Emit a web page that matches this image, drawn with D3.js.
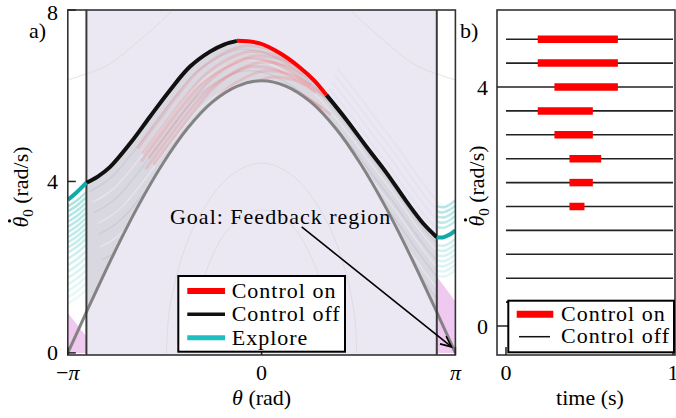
<!DOCTYPE html>
<html><head><meta charset="utf-8">
<script src="https://cdn.jsdelivr.net/npm/d3@7"></script>
<style>
body{margin:0;background:#fff;}
text{font-family:"Liberation Serif",serif;fill:#000;}
</style>
</head><body>
<svg id="c" width="676" height="418"></svg>
<script>
const PI = Math.PI;

// ---------- panel a data ----------
const thetaTickValues = [-PI, 0, PI];
const thetaTickLabels = ["−π", "0", "π"];
const velTickValuesA = [0, 4, 8];
const feedbackEdges = [-2.84, 2.84];
const separatrix = [[-PI,0],[-2.84,0.95],[-2.4,2.30],[-2.0,3.43],[-1.6,4.42],[-1.2,5.24],[-0.8,5.85],[-0.4,6.22],[0,6.35],[0.4,6.22],[0.8,5.85],[1.2,5.24],[1.6,4.42],[2.0,3.43],[2.4,2.30],[2.84,0.95],[PI,0]];
const controlOffRise = [[-2.84,3.97],[-2.65,4.12],[-2.455,4.34],[-2.13,4.89],[-1.81,5.51],[-1.485,6.13],[-1.16,6.68],[-0.836,7.03],[-0.60,7.20],[-0.40,7.28]];
const controlOnArc = [[-0.40,7.28],[-0.03,7.22],[0.30,6.99],[0.62,6.66],[0.85,6.36],[1.05,6.02]];
const controlOffFall = [[1.05,6.02],[1.38,5.43],[1.70,4.81],[2.03,4.19],[2.35,3.53],[2.62,3.02],[2.84,2.70]];
const exploreLeft = [[-PI,3.57],[-3.0,3.74],[-2.84,3.97]];
const exploreRight = [[2.84,2.70],[2.95,2.70],[3.05,2.76],[PI,2.86]];
const exploreStrandsLeft = [3.42,3.3,3.18,3.06,2.94,2.82,2.7,2.58,2.46,2.34,2.2,2.05,1.9,1.75,1.6,1.45,1.3,1.15];
const exploreStrandsRight = [3.42,3.3,3.18,3.06,2.94,2.52,2.4,2.28,2.16,2.04,1.92,1.8];
const grayStrandShifts = [[0.05,0.2],[0.1,0.45],[0.12,0.7],[0.18,0.95],[0.2,1.2],[0.22,1.5],[0.25,1.8],[0.28,2.1],[0.3,2.4],[0.3,2.7],[0.32,3.0]];
const overshootShifts = [0.15,0.3,0.45,0.6];
const redStrandShifts = [[0.12,0.12],[0.2,0.25],[0.3,0.35],[0.38,0.5],[0.25,0.6],[0.45,0.7],[0.18,0.42],[0.55,0.85],[0.35,0.95],[0.5,1.1]];
const pinkLeft = [[-PI,0],[-PI,0.93],[-2.84,0.38],[-2.84,0]];
const pinkRight = [[2.84,0],[2.84,1.78],[PI,1.2],[PI,0]];
const contourOuterLeft = [[-PI,6.37],[-2.5,6.71],[-2.0,7.27],[-1.5,7.91],[-1.45,8.0]];
const contourOuterRight = [[1.45,8.0],[1.5,7.91],[2.0,7.27],[2.5,6.71],[PI,6.37]];
const contourInner1 = [[-1.54,0],[-1.5,0.94],[-1.3,2.2],[-1.0,3.22],[-0.5,4.14],[0,4.43],[0.5,4.14],[1.0,3.22],[1.3,2.2],[1.5,0.94],[1.54,0]];
const contourInner2 = [[-1.11,0],[-1.0,1.38],[-0.8,2.25],[-0.5,2.95],[0,3.34],[0.5,2.95],[0.8,2.25],[1.0,1.38],[1.11,0]];
const goalText = "Goal: Feedback region";
const goalTextPos = [-1.485, 3.0];
const goalArrow = [[0.65,2.94],[3.08,0.14]];
const legendA = ["Control on", "Control off", "Explore"];

// ---------- panel b data ----------
const timeTickValues = [0, 1];
const velTickValuesB = [0, 4];
const initialVel = [4.8,4.4,4.0,3.6,3.2,2.8,2.4,2.0,1.6,1.2,0.8,0.4,0.0];
const controlStart = [0.19,0.19,0.29,0.19,0.29,0.38,0.38,0.38,null,null,null,null,null];
const controlEnd   = [0.67,0.67,0.67,0.52,0.52,0.57,0.52,0.47,null,null,null,null,null];
const legendB = ["Control on", "Control off"];

// ---------- setup ----------
const svg = d3.select("#c");
const FS = 22;
const LS = 1.0;
const defs = svg.append("defs");

// panel a scales
const fA = {l:67.8, r:455.4, t:10, b:355};
const xA = d3.scaleLinear().domain([-PI, PI]).range([fA.l, fA.r]);
const yA = d3.scaleLinear().domain([0, 8]).range([352.9, 10]);
const lineA = d3.line().x(d=>xA(d[0])).y(d=>yA(d[1])).curve(d3.curveCatmullRom.alpha(0.5));
const polyA = d3.line().x(d=>xA(d[0])).y(d=>yA(d[1]));

defs.append("clipPath").attr("id","clipA").append("rect")
  .attr("x",fA.l).attr("y",fA.t).attr("width",fA.r-fA.l).attr("height",fA.b-fA.t);

const gA = svg.append("g").attr("clip-path","url(#clipA)");

// feedback background
gA.append("rect").attr("x",xA(feedbackEdges[0])).attr("y",fA.t)
  .attr("width",xA(feedbackEdges[1])-xA(feedbackEdges[0])).attr("height",fA.b-fA.t)
  .attr("fill","#ebe8f3");

// pink regions
[pinkLeft, pinkRight].forEach(p=>{
  gA.append("path").attr("d",polyA(p)+"Z").attr("fill","#efc9ef");
});

// faint contours
[contourOuterLeft, contourOuterRight, contourInner1, contourInner2].forEach(c=>{
  gA.append("path").attr("d",lineA(c)).attr("fill","none")
    .attr("stroke","#ddd6d6").attr("stroke-width",1).attr("opacity",0.7);
});

// explore strands
exploreStrandsLeft.forEach(v=>{
  const pts=[[-PI,v],[-3.0,v+0.13],[-2.84,v+0.33]];
  const op = 0.06 + 0.3*Math.max(0,(v-1.0))/2.4;
  gA.append("path").attr("d",lineA(pts)).attr("fill","none")
    .attr("stroke","#1cb3b0").attr("stroke-width",2.6).attr("opacity",op);
});
exploreStrandsRight.forEach(v=>{
  const pts=[[2.84,v],[2.95,v-0.02],[3.05,v+0.04],[PI,v+0.14]];
  const op = 0.1 + 0.22*Math.max(0,(v-1.7))/1.7;
  gA.append("path").attr("d",lineA(pts)).attr("fill","none")
    .attr("stroke","#1cb3b0").attr("stroke-width",2.6).attr("opacity",op);
});

// band between separatrix and the controlled trajectory
const fullTraj = controlOffRise.concat(controlOnArc.slice(1), controlOffFall.slice(1));
const sepInner = separatrix.filter(d=>Math.abs(d[0])<=2.84+1e-9).slice().reverse();
const bandD = lineA(fullTraj) + "L" + lineA(sepInner).slice(1) + "Z";
defs.append("clipPath").attr("id","band").append("path").attr("d",bandD);
gA.append("path").attr("d",bandD).attr("fill","#bdbdc4").attr("opacity",0.38);
const gBand = gA.append("g").attr("clip-path","url(#band)");
grayStrandShifts.forEach((s,i)=>{
  const pts = fullTraj.map(d=>[d[0]+s[0], d[1]-s[1]]);
  gBand.append("path").attr("d",lineA(pts)).attr("fill","none")
    .attr("stroke", i%2? "#ffffff":"#a9a9b2").attr("stroke-width",1.3).attr("opacity",i%2?0.35:0.25);
});
redStrandShifts.forEach(s=>{
  const src = controlOffRise.concat(controlOnArc.slice(1,4));
  const pts = src.filter(d=>d[0]>-2.4).map(d=>[d[0]+s[0], d[1]-s[1]]);
  gBand.append("path").attr("d",lineA(pts)).attr("fill","none")
    .attr("stroke","#ff3b3b").attr("stroke-width",3).attr("opacity",0.15);
});
overshootShifts.forEach(s=>{
  const pts = controlOffFall.map(d=>[d[0]+s*0.3, d[1]+s]);
  gA.append("path").attr("d",lineA(pts)).attr("fill","none")
    .attr("stroke","#b8b8c0").attr("stroke-width",2).attr("opacity",0.1);
});

// separatrix
gA.append("path").attr("d",lineA(separatrix)).attr("fill","none")
  .attr("stroke","#838383").attr("stroke-width",3);

// feedback region edges
feedbackEdges.forEach(e=>{
  gA.append("line").attr("x1",xA(e)).attr("x2",xA(e)).attr("y1",fA.t).attr("y2",fA.b)
    .attr("stroke","#3a3a3a").attr("stroke-width",2);
});

// main trajectory
const seg = (pts,col,w)=>gA.append("path").attr("d",lineA(pts)).attr("fill","none")
  .attr("stroke",col).attr("stroke-width",w).attr("stroke-linecap","butt");
seg(controlOffRise,"#111111",4);
seg(controlOffFall,"#111111",4);
seg(controlOnArc,"#ff0000",4);
seg(exploreLeft,"#11aaa8",4);
seg(exploreRight,"#11aaa8",4);

// frame a
svg.append("rect").attr("x",fA.l).attr("y",fA.t).attr("width",fA.r-fA.l).attr("height",fA.b-fA.t)
  .attr("fill","none").attr("stroke","#333").attr("stroke-width",1.6);

// ticks a (inward)
velTickValuesA.forEach(v=>{
  svg.append("line").attr("x1",fA.l).attr("x2",fA.l+8).attr("y1",yA(v)).attr("y2",yA(v))
    .attr("stroke","#222").attr("stroke-width",1.5);
  svg.append("text").attr("x",58).attr("y",Math.max(19.5, yA(v)+7.5)).attr("text-anchor","end")
    .attr("font-size",FS).text(v);
});
thetaTickValues.forEach((t,i)=>{
  svg.append("line").attr("x1",xA(t)).attr("x2",xA(t)).attr("y1",fA.b).attr("y2",fA.b-8)
    .attr("stroke","#222").attr("stroke-width",1.5);
  const tx = svg.append("text").attr("x",xA(t)).attr("y",380).attr("text-anchor","middle")
    .attr("font-size",FS);
  if (thetaTickLabels[i]==="0") tx.text("0");
  else {
    if (thetaTickLabels[i].startsWith("−")) tx.append("tspan").text("−");
    tx.append("tspan").attr("font-style","italic").text("π");
  }
});

// annotation
svg.append("text").attr("x",xA(goalTextPos[0])).attr("y",yA(goalTextPos[1]))
  .attr("font-size",FS).attr("letter-spacing",LS).text(goalText);
{
  const [p0,p1] = goalArrow;
  const x0=xA(p0[0]), y0=yA(p0[1]), x1=xA(p1[0]), y1=yA(p1[1]);
  svg.append("line").attr("x1",x0).attr("y1",y0).attr("x2",x1).attr("y2",y1)
    .attr("stroke","#000").attr("stroke-width",1.6);
  const ang = Math.atan2(y1-y0, x1-x0), L=12, a=0.42;
  const hp = [[x1-L*Math.cos(ang-a), y1-L*Math.sin(ang-a)],[x1,y1],[x1-L*Math.cos(ang+a), y1-L*Math.sin(ang+a)]];
  svg.append("path").attr("d",d3.line()(hp)).attr("fill","none").attr("stroke","#000").attr("stroke-width",1.6);
}

// legend a
{
  const g = svg.append("g");
  g.append("rect").attr("x",178.3).attr("y",276).attr("width",166.7).attr("height",75.7)
    .attr("fill","#fff").attr("stroke","#000").attr("stroke-width",2);
  const cols=["#ff0000","#111111","#1cc0c0"], ws=[6,3.5,5], rows=[291,314.3,337.7];
  legendA.forEach((t,i)=>{
    g.append("line").attr("x1",187.3).attr("x2",225).attr("y1",rows[i]).attr("y2",rows[i])
      .attr("stroke",cols[i]).attr("stroke-width",ws[i]);
    g.append("text").attr("x",231.7).attr("y",rows[i]+6.8).attr("font-size",FS)
      .attr("letter-spacing",LS).text(t);
  });
}

// axis labels
svg.append("text").attr("x",261.6).attr("y",405).attr("text-anchor","middle").attr("font-size",FS)
  .call(t=>{t.append("tspan").attr("font-style","italic").text("θ"); t.append("tspan").text(" (rad)");});
function yLabel(cx, cy){
  const g = svg.append("g").attr("transform",`translate(${cx},${cy}) rotate(-90)`);
  const t = g.append("text").attr("font-size",FS);
  const th = t.append("tspan").attr("font-style","italic").text("θ");
  t.append("tspan").attr("font-size",15).attr("dy",5).text("0");
  t.append("tspan").attr("dy",-5).text(" (rad/s)");
  const total = t.node().getComputedTextLength();
  t.attr("x",-total/2);
  const thW = th.node().getComputedTextLength();
  g.append("circle").attr("cx",-total/2 + thW*0.62).attr("cy",-18.5).attr("r",1.6).attr("fill","#000");
}
yLabel(28, 187);
svg.append("text").attr("x",29).attr("y",37.5).attr("font-size",FS).text("a)");

// ---------- panel b ----------
const fB = {l:497, r:675, t:10, b:355};
const xB = d3.scaleLinear().domain([0,1]).range([506,673]);
const yB = d3.scaleLinear().domain([0,4]).range([326,87]);
defs.append("clipPath").attr("id","clipB").append("rect")
  .attr("x",fB.l).attr("y",fB.t).attr("width",fB.r-fB.l).attr("height",fB.b-fB.t);
const gB = svg.append("g").attr("clip-path","url(#clipB)");
initialVel.forEach((v,i)=>{
  gB.append("line").attr("x1",xB(0)).attr("x2",xB(1)).attr("y1",yB(v)).attr("y2",yB(v))
    .attr("stroke","#222").attr("stroke-width",1.6);
  if (controlStart[i]!=null){
    gB.append("line").attr("x1",xB(controlStart[i])).attr("x2",xB(controlEnd[i]))
      .attr("y1",yB(v)).attr("y2",yB(v)).attr("stroke","#ff0000").attr("stroke-width",7.5);
  }
});
svg.append("rect").attr("x",fB.l).attr("y",fB.t).attr("width",fB.r-fB.l).attr("height",fB.b-fB.t)
  .attr("fill","none").attr("stroke","#333").attr("stroke-width",1.6);
velTickValuesB.forEach(v=>{
  svg.append("line").attr("x1",fB.l).attr("x2",fB.l+9).attr("y1",yB(v)).attr("y2",yB(v))
    .attr("stroke","#222").attr("stroke-width",1.5);
  svg.append("text").attr("x",488).attr("y",yB(v)+7.5).attr("text-anchor","end")
    .attr("font-size",FS).text(v);
});
timeTickValues.forEach(t=>{
  svg.append("line").attr("x1",xB(t)).attr("x2",xB(t)).attr("y1",fB.b).attr("y2",fB.b-8)
    .attr("stroke","#222").attr("stroke-width",1.5);
  svg.append("text").attr("x",xB(t)).attr("y",380).attr("text-anchor","middle")
    .attr("font-size",FS).text(t);
});
// legend b
{
  const g = svg.append("g");
  g.append("rect").attr("x",508.3).attr("y",300.7).attr("width",165.7).attr("height",51.6)
    .attr("fill","#fff").attr("stroke","#000").attr("stroke-width",2);
  g.append("line").attr("x1",516.7).attr("x2",553.3).attr("y1",314.3).attr("y2",314.3)
    .attr("stroke","#ff0000").attr("stroke-width",7);
  g.append("line").attr("x1",519).attr("x2",550).attr("y1",336.7).attr("y2",336.7)
    .attr("stroke","#111").attr("stroke-width",1.5);
  g.append("text").attr("x",561).attr("y",320.7).attr("font-size",FS).attr("letter-spacing",LS).text(legendB[0]);
  g.append("text").attr("x",561).attr("y",343.3).attr("font-size",FS).attr("letter-spacing",LS).text(legendB[1]);
}
svg.append("text").attr("x",590).attr("y",405).attr("text-anchor","middle").attr("font-size",FS).text("time (s)");
yLabel(484, 186);
svg.append("text").attr("x",460).attr("y",37.5).attr("font-size",FS).text("b)");
</script>
</body></html>
